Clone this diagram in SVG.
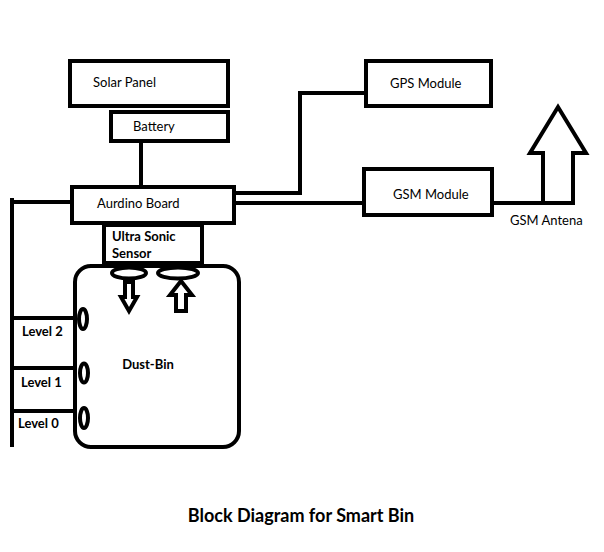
<svg xmlns="http://www.w3.org/2000/svg" width="604" height="552" viewBox="0 0 604 552">
<style>
.box{fill:#fff;stroke:#000;stroke-width:4}
.ln{fill:none;stroke:#000;stroke-width:4}
.t{font-family:Lato,"Open Sans","Liberation Sans",sans-serif;font-size:13px;fill:#000}
.b{font-weight:bold}
.title{font-size:18px}
</style>
<rect width="604" height="552" fill="#fff"/>
<g id="connectors">
<path class="ln" d="M141,143 V187"/>
<path class="ln" d="M12,447 V198 M12,202 H72"/>
<path class="ln" d="M234,193 H300 V93 H366"/>
<path class="ln" d="M234,203 H364"/>
<path class="ln" d="M492,203 H543"/>
<path class="ln" d="M12,318 H75 M12,368 H75 M12,411 H75"/>
</g>
<g id="solar-panel"><rect class="box" x="70" y="61" width="158" height="45"/><text class="t" x="93" y="87">Solar Panel</text></g>
<g id="battery"><rect class="box" x="111" y="112" width="117" height="29"/><text class="t" x="133" y="131">Battery</text></g>
<g id="aurdino-board"><rect class="box" x="72" y="187" width="162" height="36"/><text class="t" x="97" y="208">Aurdino Board</text></g>
<g id="gps-module"><rect class="box" x="366" y="61" width="125" height="45"/><text class="t" x="390" y="88">GPS Module</text></g>
<g id="gsm-module"><rect class="box" x="364" y="169" width="128" height="46"/><text class="t" x="393" y="199">GSM Module</text></g>
<g id="gsm-antena"><path class="ln" d="M543,203 V153 H530 L558,107 L586,153 H573 V203 Z" fill="#fff" stroke-linejoin="miter"/><text class="t" x="510" y="225">GSM Antena</text></g>
<g id="ultra-sonic-sensor"><rect class="box" x="104" y="225" width="98" height="38"/><text class="t b" x="112" y="241">Ultra Sonic</text><text class="t b" x="112" y="258">Sensor</text></g>
<g id="dust-bin">
<rect class="box" x="75" y="266" width="164" height="181" rx="16"/>
<ellipse class="ln" cx="129" cy="273" rx="17" ry="5.5"/>
<ellipse class="ln" cx="178" cy="273" rx="20" ry="5.5"/>
<path class="ln" d="M125,282 H133 V297 H137 L129,311 L121,297 H125 Z" stroke-width="3"/>
<path class="ln" d="M176,311 V295 H170 L181,281 L192,295 H186 V311 Z" stroke-width="3"/>
<ellipse class="ln" cx="83" cy="319" rx="4" ry="10" stroke-width="3.5"/>
<ellipse class="ln" cx="84" cy="373" rx="4" ry="9.5" stroke-width="3.5"/>
<ellipse class="ln" cx="84" cy="418" rx="4" ry="10" stroke-width="3.5"/>
<text class="t b" x="148" y="369" text-anchor="middle">Dust-Bin</text>
</g>
<g id="levels">
<text class="t b" x="22" y="336">Level 2</text>
<text class="t b" x="21" y="387">Level 1</text>
<text class="t b" x="18" y="428">Level 0</text>
</g>
<text class="t b title" x="301" y="522" text-anchor="middle">Block Diagram for Smart Bin</text>
</svg>
